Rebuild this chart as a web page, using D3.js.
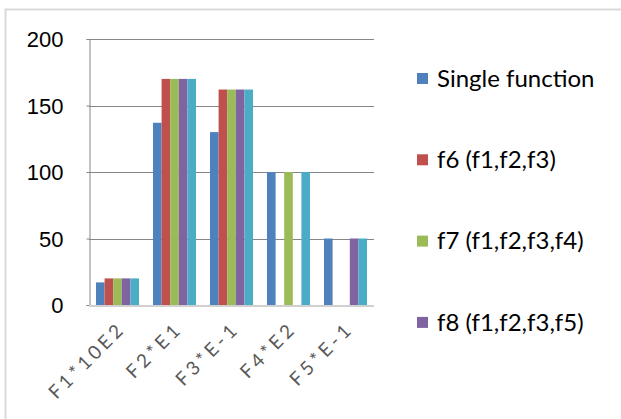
<!DOCTYPE html>
<html>
<head>
<meta charset="utf-8">
<script src="https://cdn.jsdelivr.net/npm/d3@7"></script>
<style>
  body { margin: 0; background: #fff; }
  svg { display: block; font-family: Lato, "Open Sans", sans-serif; }
</style>
</head>
<body>
<svg id="chart"></svg>
<script>
const categories = ["F1*10E2", "F2*E1", "F3*E-1", "F4*E2", "F5*E-1"];
const seriesNames = ["Single function", "f6 (f1,f2,f3)", "f7 (f1,f2,f3,f4)", "f8 (f1,f2,f3,f5)", "f9"];
const singleFunction = [17, 137, 130, 100, 50];
const f6 = [20, 170, 162, 0, 0];
const f7 = [20, 170, 162, 100, 0];
const f8 = [20, 170, 162, 0, 50];
const f9 = [20, 170, 162, 100, 50];
const yTicks = [0, 50, 100, 150, 200];
const colors = ["#4F81BD", "#C0504D", "#9BBB59", "#8064A2", "#4BACC6"];

const seriesValues = [singleFunction, f6, f7, f8, f9];
const shownInLegend = 4; // the last entry is clipped in the original

const w = 621, h = 419;
const plot = { left: 89, right: 374, top: 39, bottom: 305 };

const svg = d3.select("#chart")
    .attr("width", w)
    .attr("height", h);

// outer frame
svg.append("rect")
    .attr("x", 5.5)
    .attr("y", 9.5)
    .attr("width", 800)
    .attr("height", 600)
    .attr("fill", "none")
    .attr("stroke", "#d9d9d9")
    .attr("stroke-width", 2);

// Scales
const x0 = d3.scaleBand()
    .domain(categories)
    .range([plot.left, plot.right])
    .paddingInner(0.245)
    .paddingOuter(0.1225);

const x1 = d3.scaleBand()
    .domain(d3.range(seriesNames.length))
    .range([0, x0.bandwidth()]);

const y = d3.scaleLinear()
    .domain([0, 200])
    .range([plot.bottom, plot.top]);

// gridlines
svg.append("g")
    .selectAll("line")
    .data(yTicks.filter(t => t > 0))
    .join("line")
    .attr("x1", plot.left)
    .attr("x2", plot.right)
    .attr("y1", d => Math.round(y(d)) + 0.5)
    .attr("y2", d => Math.round(y(d)) + 0.5)
    .attr("stroke", "#868686")
    .attr("stroke-width", 1);

// bars
const rows = categories.map((c, i) => ({
    cat: c,
    vals: seriesValues.map((s, j) => ({ s: j, v: s[i] }))
}));

svg.append("g")
    .selectAll("g")
    .data(rows)
    .join("g")
    .attr("transform", d => `translate(${x0(d.cat)},0)`)
    .selectAll("rect")
    .data(d => d.vals.filter(v => v.v > 0))
    .join("rect")
    .attr("x", d => x1(d.s))
    .attr("y", d => y(d.v))
    .attr("width", x1.bandwidth())
    .attr("height", d => y(0) - y(d.v))
    .attr("fill", d => colors[d.s]);

// y axis
const yAxis = d3.axisLeft(y)
    .tickValues(yTicks)
    .tickSize(3)
    .tickPadding(23);

const yg = svg.append("g")
    .attr("transform", `translate(${plot.left + 0.5},0)`)
    .call(yAxis);
yg.select(".domain").attr("stroke", "#868686");
yg.selectAll(".tick line").attr("stroke", "#868686");
yg.selectAll(".tick text")
    .attr("fill", "#000")
    .style("font-size", "22px")
    .attr("dy", "0.36em");

// x axis line
svg.append("line")
    .attr("x1", plot.left)
    .attr("x2", plot.right)
    .attr("y1", plot.bottom + 1)
    .attr("y2", plot.bottom + 1)
    .attr("stroke", "#d0d0d0")
    .attr("stroke-width", 2);

// x labels
svg.append("g")
    .selectAll("text")
    .data(categories)
    .join("text")
    .attr("transform", d => `translate(${x0(d) + x0.bandwidth() / 2 + 9},${plot.bottom + 25}) rotate(-45)`)
    .attr("text-anchor", "end")
    .attr("fill", "#595959")
    .style("font-size", "19px")
    .style("letter-spacing", "3.6px")
    .text(d => d);

// legend
const legend = svg.append("g")
    .selectAll("g")
    .data(seriesNames.slice(0, shownInLegend))
    .join("g")
    .attr("transform", (d, i) => `translate(417,${78 + i * 81.3})`);

legend.append("rect")
    .attr("x", 0)
    .attr("y", -5)
    .attr("width", 11)
    .attr("height", 11)
    .attr("fill", (d, i) => colors[i]);

legend.append("text")
    .attr("x", 20)
    .attr("dy", "0.36em")
    .attr("fill", "#000")
    .style("font-size", "24px")
    .text(d => d);
</script>
</body>
</html>
